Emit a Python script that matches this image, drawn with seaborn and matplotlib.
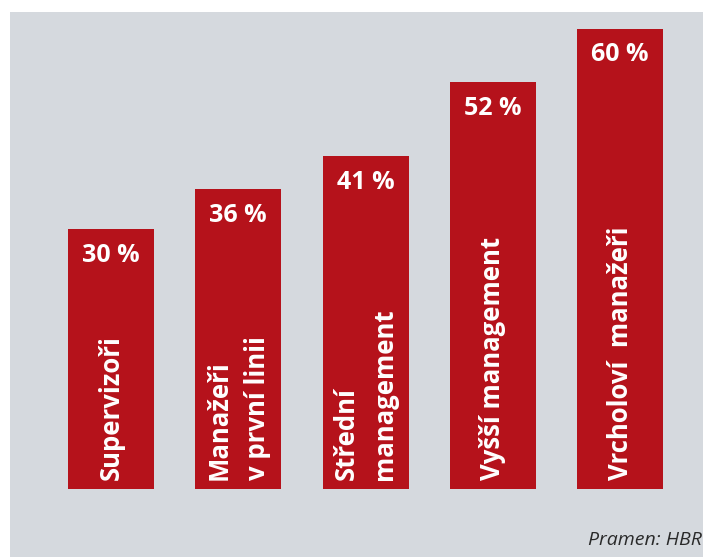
import matplotlib
matplotlib.use("Agg")
import matplotlib.pyplot as plt
import seaborn as sns
import pandas as pd

categories = ["Supervizoři", "Manažeři\nv první linii", "Střední\nmanagement",
              "Vyšší management", "Vrcholoví  manažeři"]
values = [30, 36, 41, 52, 60]
value_labels = ["30 %", "36 %", "41 %", "52 %", "60 %"]
source = "Pramen: HBR"

RED = "#b5121b"
BG = "#d5d9de"
BASE = -8.8  # bars start below zero in the original graphic

df = pd.DataFrame({"cat": categories, "val": values})
df["span"] = df["val"] - BASE

sns.set_theme(style="white")
plt.rcParams["font.family"] = ["Open Sans", "DejaVu Sans"]

fig = plt.figure(figsize=(7.03, 5.57), dpi=100)
fig.patch.set_facecolor("white")
ax = fig.add_axes([10 / 703, 0, 693 / 703, 545 / 557])
ax.set_facecolor(BG)

sns.barplot(data=df, x="cat", y="span", bottom=BASE, color=RED, saturation=1,
            width=0.676, linewidth=0, edgecolor=RED, ax=ax)

for i, (v, lab) in enumerate(zip(values, value_labels)):
    ax.annotate(lab, (i, v), xytext=(0, -19), textcoords="offset points",
                ha="center", va="center", color="white", fontsize=18,
                fontweight="bold")

for i, cat in enumerate(categories):
    ax.annotate(cat, (i, BASE), xytext=(0, 6.5), textcoords="offset points",
                rotation=90, ha="center", va="bottom", multialignment="left",
                color="white", fontsize=18.5, fontweight="bold", linespacing=1.55)

ax.set_xlim(-0.794, 4.652)
ax.set_ylim(-18.98, 62.48)
ax.set_xticks([])
ax.set_yticks([])
ax.set_xlabel("")
ax.set_ylabel("")
for s in ax.spines.values():
    s.set_visible(False)

fig.text(0.998, 1 - 540 / 557, source, ha="right", va="center",
         style="italic", fontsize=14, color="#2a2a2a")

fig.savefig("out.png", dpi=100, facecolor="white")
